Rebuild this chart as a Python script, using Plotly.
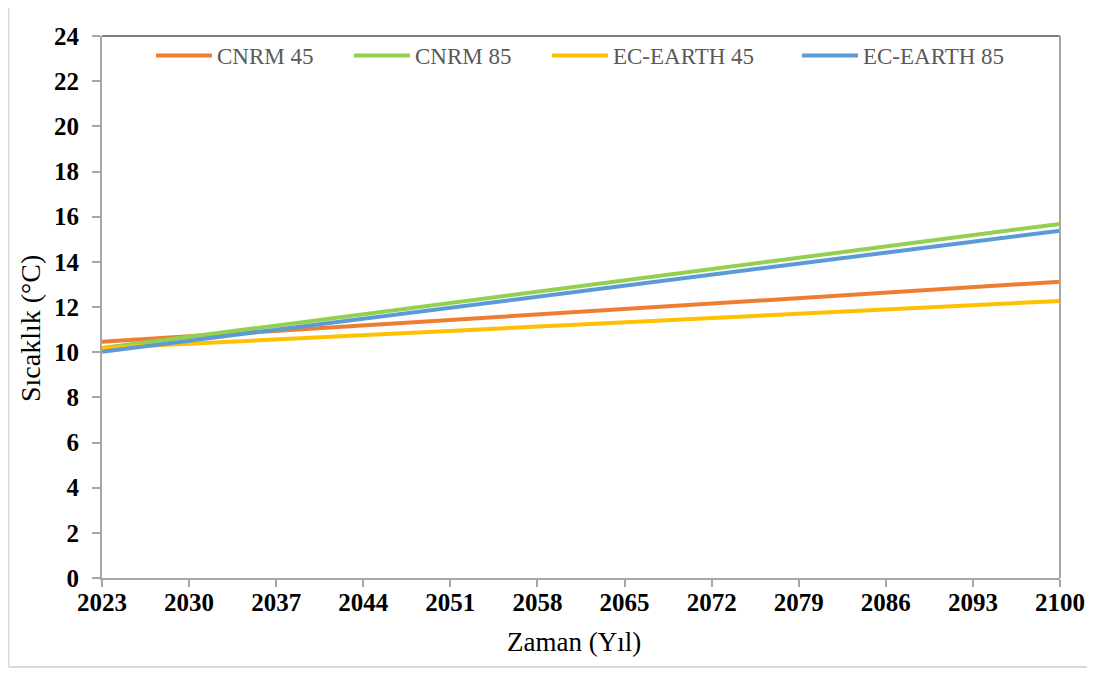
import plotly.graph_objects as go

years = [2023, 2100]
cnrm45 = [10.46, 13.12]
cnrm85 = [10.18, 15.68]
ecearth45 = [10.18, 12.27]
ecearth85 = [10.02, 15.38]

series_names = ["CNRM 45", "CNRM 85", "EC-EARTH 45", "EC-EARTH 85"]
series_values = [cnrm45, cnrm85, ecearth45, ecearth85]
colors = ["#ED7D31", "#92D050", "#FFC000", "#5B9BD5"]
legend_ids = ["legend", "legend2", "legend3", "legend4"]

x_ticks = list(range(2023, 2101, 7))
y_ticks = list(range(0, 25, 2))

fig = go.Figure()
for name, vals, col, lg in zip(series_names, series_values, colors, legend_ids):
    fig.add_trace(go.Scatter(x=years, y=vals, mode="lines", name=name, legend=lg,
                             line=dict(color=col, width=4)))

serif = "Liberation Serif"
W, H = 1087, 665
L, R, T, B = 94, 35, 28, 95
pw, ph = W - L - R, H - T - B

def px_x(page_x):
    return (page_x - 8 - L) / pw

def px_y(page_y):
    return 1 - (page_y - 8 - T) / ph

leg_x = 0.048 + 3 / pw
leg_y = 1 + 2 / ph
leg_font = dict(family=serif, size=23, color="#595959")
legend_starts = [157, 355, 553, 803]  # page x where each legend line begins

legends = {}
for lg, start in zip(legend_ids, legend_starts):
    legends[lg] = dict(orientation="h", x=leg_x + (start - 157) / pw, y=leg_y,
                       xanchor="left", yanchor="top", font=leg_font,
                       bgcolor="rgba(0,0,0,0)", itemwidth=56, tracegroupgap=0)

fig.update_layout(
    width=W, height=H,
    paper_bgcolor="white", plot_bgcolor="white",
    margin=dict(l=L, r=R, t=T, b=B, autoexpand=False),
    font=dict(family=serif, color="black"),
    showlegend=True,
    xaxis=dict(range=[2023, 2100], tickvals=x_ticks, ticktext=[str(t) for t in x_ticks],
               showgrid=False, zeroline=False, showline=True, linecolor="#A6A6A6",
               linewidth=2, ticks="outside", ticklen=7, tickcolor="#A6A6A6",
               tickwidth=1.5, ticklabelstandoff=-6,
               tickfont=dict(family=serif, size=25, color="black", weight="bold")),
    yaxis=dict(range=[0, 24], tickvals=y_ticks, showgrid=False, zeroline=False,
               showline=True, linecolor="#A6A6A6", linewidth=2, ticks="outside",
               ticklen=8, tickcolor="#A6A6A6", tickwidth=1.5, ticklabelstandoff=8,
               tickfont=dict(family=serif, size=25, color="black", weight="bold")),
    **legends,
)
# axis titles
fig.add_annotation(text="Zaman (Yıl)", xref="paper", yref="paper",
                   x=px_x(573.5), y=px_y(642), xanchor="center", yanchor="middle",
                   showarrow=False, font=dict(family=serif, size=27, color="black"))
fig.add_annotation(text="Sıcaklık (°C)", xref="paper", yref="paper",
                   x=px_x(30), y=px_y(329), xanchor="center", yanchor="middle",
                   textangle=-90, showarrow=False,
                   font=dict(family=serif, size=28, color="black"))
# top and right plot border
fig.add_shape(type="line", xref="paper", yref="paper", x0=0, x1=1, y0=1, y1=1,
              line=dict(color="#808080", width=2))
fig.add_shape(type="line", xref="paper", yref="paper", x0=1, x1=1, y0=0, y1=1,
              line=dict(color="#A6A6A6", width=2))
# outer chart border (left and bottom edges)
fig.add_shape(type="line", xref="paper", yref="paper",
              x0=(0.5 - L) / pw, x1=(0.5 - L) / pw, y0=(H - 659 - B) / ph, y1=1 + T / ph,
              line=dict(color="#D9D9D9", width=2))
fig.add_shape(type="line", xref="paper", yref="paper",
              x0=(0.5 - L) / pw, x1=1 + R / pw, y0=(H - 659 - B) / ph, y1=(H - 659 - B) / ph,
              line=dict(color="#D9D9D9", width=2))

fig.write_html("out.html")
